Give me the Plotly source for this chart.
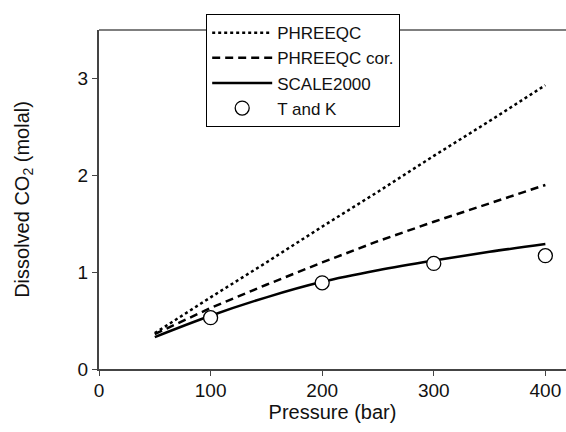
import plotly.graph_objects as go

pressure_lines = [50, 100, 150, 200, 250, 300, 350, 400]
phreeqc = [0.37, 0.74, 1.10, 1.47, 1.83, 2.20, 2.56, 2.93]
phreeqc_cor = [0.36, 0.63, 0.87, 1.10, 1.32, 1.52, 1.71, 1.90]
scale2000 = [0.33, 0.55, 0.74, 0.90, 1.02, 1.12, 1.21, 1.29]

pressure_tk = [100, 200, 300, 400]
tk = [0.53, 0.89, 1.09, 1.17]

x_ticks = [0, 100, 200, 300, 400]
y_ticks = [0, 1, 2, 3]

FONT = "Liberation Sans, Arial, sans-serif"

fig = go.Figure()
fig.add_trace(go.Scatter(x=pressure_lines, y=phreeqc, mode="lines", name="PHREEQC",
                         line=dict(color="black", width=2.5, dash="3px,3px")))
fig.add_trace(go.Scatter(x=pressure_lines, y=phreeqc_cor, mode="lines", name="PHREEQC cor.",
                         line=dict(color="black", width=2.5, dash="8px,5px")))
fig.add_trace(go.Scatter(x=pressure_lines, y=scale2000, mode="lines", name="SCALE2000",
                         line=dict(color="black", width=2.5, shape="spline")))
fig.add_trace(go.Scatter(x=pressure_tk, y=tk, mode="markers", name="T and K",
                         marker=dict(symbol="circle", size=14, color="white",
                                     line=dict(color="black", width=1.3))))

axis_common = dict(showgrid=False, zeroline=False, showline=True, linecolor="#444",
                   linewidth=2, ticks="outside", ticklen=5, tickwidth=1.2, tickcolor="#444",
                   tickfont=dict(family=FONT, size=19, color="#111"))

fig.update_xaxes(range=[0, 418.5], tickvals=x_ticks, ticklabelstandoff=-2,
                 title=dict(text="Pressure (bar)", font=dict(family=FONT, size=20, color="#111"),
                            standoff=5),
                 **axis_common)
fig.update_yaxes(range=[0, 3.5], tickvals=y_ticks,
                 title=dict(text="Dissolved CO<sub>2</sub> (molal)",
                            font=dict(family=FONT, size=20, color="#111"), standoff=43),
                 **axis_common)

fig.add_shape(type="line", xref="paper", yref="paper", x0=0, x1=1, y0=1, y1=1,
              line=dict(color="black", width=1.2))

fig.update_layout(
    width=566, height=432,
    margin=dict(l=99, r=0, t=30, b=63),
    plot_bgcolor="white", paper_bgcolor="white",
    font=dict(family=FONT, color="#111"),
    legend=dict(x=0.2291, y=1.0472, xanchor="left", yanchor="top",
                bgcolor="white", bordercolor="black", borderwidth=1.2,
                font=dict(family=FONT, size=17, color="#111"),
                itemwidth=60, tracegroupgap=0),
)

fig.write_html("out.html")
